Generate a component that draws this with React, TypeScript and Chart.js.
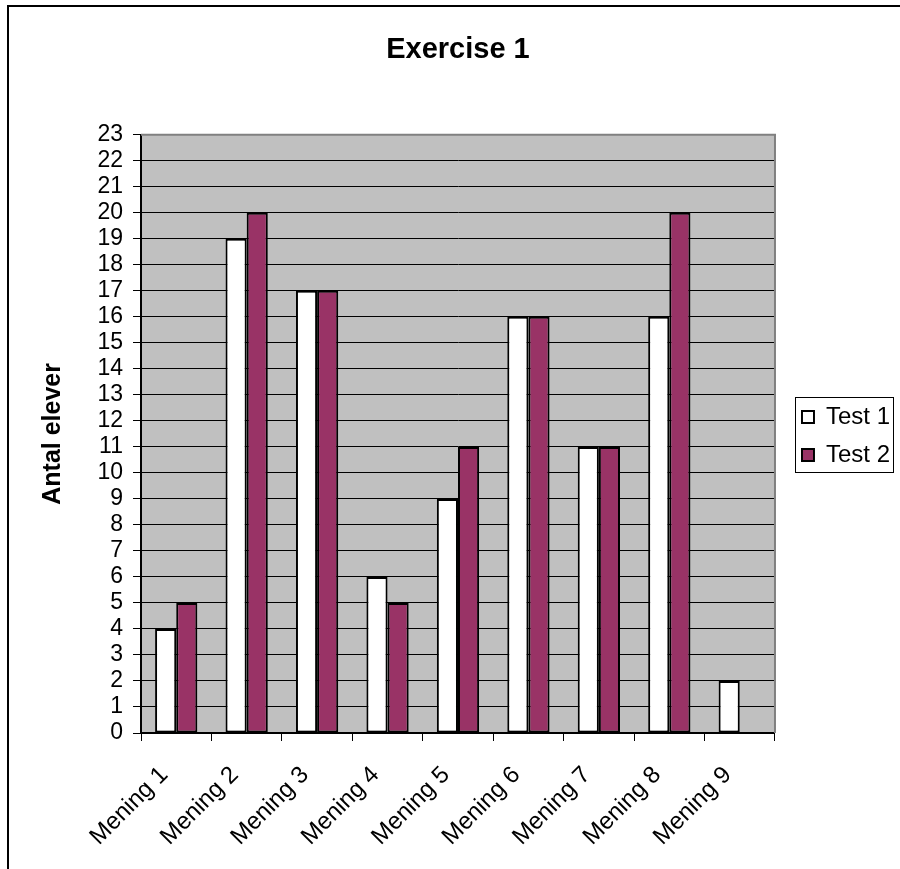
import { useEffect, useRef } from "react";
import { Chart, registerables } from "chart.js";

Chart.register(...registerables);

// Sentences on the category axis
const categories = [
  "Mening 1",
  "Mening 2",
  "Mening 3",
  "Mening 4",
  "Mening 5",
  "Mening 6",
  "Mening 7",
  "Mening 8",
  "Mening 9",
];

// Number of pupils per sentence in each test
const test1 = [4, 19, 17, 6, 9, 16, 11, 16, 2];
const test2 = [5, 20, 17, 5, 11, 16, 11, 20, null];

const seriesNames = ["Test 1", "Test 2"];
const yMin = 0;
const yMax = 23;
const yStep = 1;

const FONT = "Arial, 'Liberation Sans', Helvetica, sans-serif";
const LEGEND_PAD = 14;

// Page frame, grey plot background, plot border and legend box
const framePlugin = {
  id: "frame",
  beforeDraw(chart: any) {
    const { ctx, chartArea: a } = chart;
    ctx.save();
    ctx.fillStyle = "#ffffff";
    ctx.fillRect(0, 0, chart.width, chart.height);
    ctx.fillStyle = "#c0c0c0";
    ctx.fillRect(a.left, a.top, a.right - a.left, a.bottom - a.top);
    ctx.strokeStyle = "#000000";
    ctx.lineWidth = 2;
    ctx.beginPath();
    ctx.moveTo(8, chart.height);
    ctx.lineTo(8, 6);
    ctx.lineTo(chart.width, 6);
    ctx.stroke();
    ctx.restore();
  },
  afterLayout(chart: any) {
    const lg = chart.legend;
    if (!lg) return;
    const dx = chart.chartArea.right + 27 - (lg.left + LEGEND_PAD);
    const dy = 1.5;
    lg.left += dx;
    lg.right += dx;
    lg.top += dy;
    lg.bottom += dy;
  },
  afterDraw(chart: any) {
    const { ctx, chartArea: a } = chart;
    ctx.save();
    ctx.strokeStyle = "#808080";
    ctx.lineWidth = 2;
    ctx.beginPath();
    ctx.moveTo(a.left, a.top);
    ctx.lineTo(a.right, a.top);
    ctx.lineTo(a.right, a.bottom);
    ctx.stroke();

    const hb = chart.legend?.legendHitBoxes || [];
    if (hb.length) {
      const l = Math.min(...hb.map((h: any) => h.left)) - 7;
      const r = Math.max(...hb.map((h: any) => h.left + h.width)) + 3;
      const t = hb[0].top - 8;
      const last = hb[hb.length - 1];
      const b = last.top + last.height + 5;
      ctx.strokeStyle = "#000000";
      ctx.lineWidth = 1;
      ctx.strokeRect(Math.round(l) + 0.5, Math.round(t) + 0.5, Math.round(r - l), Math.round(b - t));
    }
    ctx.restore();
  },
};

export default function App() {
  const canvasRef = useRef<HTMLCanvasElement>(null);

  useEffect(() => {
    const canvas = canvasRef.current;
    if (!canvas) return;
    const chart = new Chart(canvas, {
      type: "bar",
      data: {
        labels: categories,
        datasets: [
          {
            label: seriesNames[0],
            data: test1,
            backgroundColor: "#ffffff",
            borderColor: "#000000",
            borderWidth: 2,
            borderSkipped: false,
          },
          {
            label: seriesNames[1],
            data: test2,
            backgroundColor: "#993366",
            borderColor: "#000000",
            borderWidth: 2,
            borderSkipped: false,
          },
        ],
      },
      options: {
        responsive: false,
        animation: false,
        devicePixelRatio: 1,
        layout: { padding: { top: 0, left: 0, bottom: 0, right: 13 } },
        datasets: {
          bar: { categoryPercentage: 0.6, barPercentage: 1 },
        },
        plugins: {
          title: {
            display: true,
            text: "Exercise 1",
            color: "#000000",
            fullSize: false,
            font: { family: FONT, size: 29, weight: "bold" },
            padding: { top: 33, bottom: 67 },
          },
          legend: {
            position: "right",
            labels: {
              boxWidth: 12,
              boxHeight: 12,
              padding: LEGEND_PAD,
              color: "#000000",
              font: { family: FONT, size: 24 },
            },
          },
          tooltip: { enabled: false },
        },
        scales: {
          x: {
            grid: {
              display: true,
              drawOnChartArea: false,
              drawTicks: true,
              tickLength: 8,
              color: "#000000",
              lineWidth: 1,
              offset: true,
            },
            border: { display: true, color: "#000000", width: 2 },
            ticks: {
              autoSkip: false,
              minRotation: 45,
              maxRotation: 45,
              padding: 20,
              labelOffset: -12,
              color: "#000000",
              font: { family: FONT, size: 24 },
            },
            afterFit: (s: any) => {
              s.height = 136;
            },
          },
          y: {
            min: yMin,
            max: yMax,
            ticks: {
              stepSize: yStep,
              autoSkip: false,
              padding: 10,
              color: "#000000",
              font: { family: FONT, size: 23 },
            },
            grid: {
              color: "#000000",
              lineWidth: 1,
              drawTicks: true,
              tickLength: 8,
            },
            border: { display: true, color: "#000000", width: 2 },
            title: {
              display: true,
              text: "Antal elever",
              color: "#000000",
              font: { family: FONT, size: 25, weight: "bold" },
              padding: { top: 38, bottom: 0 },
            },
            afterFit: (s: any) => {
              s.width = 141;
            },
          },
        },
      } as any,
      plugins: [framePlugin],
    });
    return () => chart.destroy();
  }, []);

  return (
    <div style={{ position: "absolute", left: 0, top: 0, width: 900, height: 869, background: "#ffffff" }}>
      <canvas ref={canvasRef} width={900} height={869} style={{ display: "block", width: 900, height: 869 }} />
    </div>
  );
}
